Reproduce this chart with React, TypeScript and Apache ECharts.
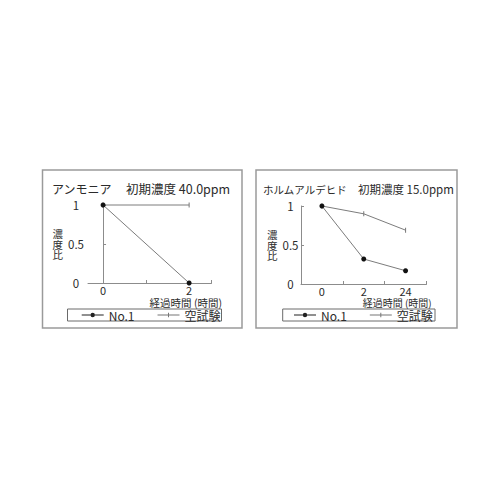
import React, { useEffect, useRef } from 'react';
import * as echarts from 'echarts';

const leftTimes = [0, 2];
const leftNo1 = [1, 0];
const leftBlank = [1, 1];
const rightTimes = ['0', '2', '24'];
const rightNo1 = [1, 0.32, 0.17];
const rightBlank = [1, 0.9, 0.69];
const seriesNames = ['No.1', '空試験'];
const leftTitle = ['アンモニア', '初期濃度 40.0ppm'];
const rightTitle = ['ホルムアルデヒド', '初期濃度 15.0ppm'];
const xAxisName = '経過時間 (時間)';
const yAxisName = '濃\n度\n比';

const FONT = '"Noto Sans CJK JP", "Noto Sans", sans-serif';
const LINE = '#7c7c7c';
const AXIS = '#8c8c8c';
const TEXT = '#2b2b2b';

const dotIcon = 'path://M0,1.7h22v1h-22z M13.2,2.2a2.2,2.2 0 1,1 -4.4,0a2.2,2.2 0 1,1 4.4,0z';
const tickIcon = 'path://M0,1.7h22v1h-22z M10.5,0h1v4.4h-1z';

function yAxisOf(grid: number, labelMargin: number, nameGap: number) {
  return {
    type: 'value',
    gridIndex: grid,
    min: 0,
    max: 1,
    interval: 0.5,
    axisLine: { show: true, lineStyle: { color: AXIS, width: 1 } },
    axisTick: { show: true, inside: true, length: 3, lineStyle: { color: AXIS } },
    axisLabel: { align: 'center', margin: labelMargin, fontSize: 11.5, color: TEXT, fontFamily: FONT },
    splitLine: { show: false },
    name: yAxisName,
    nameLocation: 'middle',
    nameGap: nameGap,
    nameRotate: 0,
    nameTextStyle: {
      align: 'center',
      verticalAlign: 'middle',
      fontSize: 10.5,
      lineHeight: 10.5,
      color: '#2b2b2b',
      fontFamily: FONT,
      padding: [7, 0, 0, 0],
    },
  };
}

function legendOf(left: number) {
  return {
    left,
    top: 309,
    padding: 0,
    itemWidth: 22,
    itemHeight: 4.4,
    itemGap: 23,
    selectedMode: false,
    itemStyle: { borderWidth: 0 },
    textStyle: { fontSize: 12, color: TEXT, fontFamily: FONT, padding: [0, 0, 0, 0] },
    data: [
      { name: seriesNames[0], icon: dotIcon, itemStyle: { color: '#222' } },
      { name: seriesNames[1], icon: tickIcon, itemStyle: { color: '#777' } },
    ],
  };
}

function no1Series(x: number, data: any[]) {
  return {
    name: seriesNames[0],
    type: 'line',
    xAxisIndex: x,
    yAxisIndex: x,
    data,
    clip: false,
    z: 3,
    symbol: 'circle',
    symbolSize: 5,
    itemStyle: { color: '#111', borderWidth: 0 },
    lineStyle: { color: LINE, width: 1 },
  };
}

function blankSeries(x: number, data: any[]) {
  return {
    name: seriesNames[1],
    type: 'line',
    xAxisIndex: x,
    yAxisIndex: x,
    data,
    clip: false,
    z: 2,
    symbol: 'rect',
    symbolSize: [1, 5],
    itemStyle: { color: '#777', borderWidth: 0 },
    lineStyle: { color: LINE, width: 1 },
  };
}

export default function App() {
  const ref = useRef<HTMLDivElement>(null);
  useEffect(() => {
    if (!ref.current) return;
    const chart = echarts.init(ref.current, undefined, { renderer: 'svg' });
    const txt = (x: number, y: number, text: string, fontSize: number, align = 'left') => ({
      type: 'text',
      x,
      y,
      style: { text, fontSize, fill: TEXT, fontFamily: FONT, align, verticalAlign: 'middle' },
    });
    const box = (x: number, y: number, w: number, h: number, stroke: string, lw: number) => ({
      type: 'rect',
      shape: { x, y, width: w, height: h },
      style: { fill: 'none', stroke, lineWidth: lw },
      silent: true,
    });
    chart.setOption({
      animation: false,
      backgroundColor: '#ffffff',
      grid: [
        { left: 88, top: 205, width: 123.5, height: 78 },
        { left: 301, top: 206, width: 125.5, height: 78 },
      ],
      xAxis: [
        {
          type: 'value',
          gridIndex: 0,
          min: -0.35,
          max: 2.52,
          axisLine: { show: true, lineStyle: { color: AXIS, width: 1 } },
          axisTick: { show: true, inside: true, length: 3, lineStyle: { color: AXIS }, customValues: [1, 2.52] },
          axisLabel: { customValues: leftTimes, margin: 1.5, fontSize: 11, color: TEXT, fontFamily: FONT },
          splitLine: { show: false },
        },
        {
          type: 'category',
          gridIndex: 1,
          data: rightTimes,
          boundaryGap: true,
          axisLine: { show: true, lineStyle: { color: AXIS, width: 1 } },
          axisTick: { show: true, inside: true, length: 3, lineStyle: { color: AXIS } },
          axisLabel: { margin: 1.5, fontSize: 11, color: TEXT, fontFamily: FONT },
          splitLine: { show: false },
        },
      ],
      yAxis: [yAxisOf(0, 12, 28), yAxisOf(1, 10.5, 25)],
      legend: [legendOf(81.7), legendOf(294)],
      series: [
        blankSeries(0, leftTimes.map((t, i) => [t, leftBlank[i]])),
        no1Series(0, leftTimes.map((t, i) => [t, leftNo1[i]])),
        blankSeries(1, rightBlank),
        no1Series(1, rightNo1),
      ],
      graphic: [
        box(42.5, 170, 199.5, 158, '#9a9a9a', 1.5),
        box(256, 170, 201, 158, '#9a9a9a', 1.5),
        box(67.5, 309, 154, 12, '#6a6a6a', 1),
        box(282.7, 309, 152.3, 12, '#6a6a6a', 1),
        txt(52, 188, leftTitle[0], 12),
        txt(126, 188, leftTitle[1], 12.5),
        txt(263, 189, rightTitle[0], 10.5),
        txt(358, 189, rightTitle[1], 11.5),
        txt(222, 302, xAxisName, 10.5, 'right'),
        txt(431.7, 302.5, xAxisName, 10, 'right'),
      ],
    });
    return () => chart.dispose();
  }, []);
  return <div ref={ref} style={{ position: 'fixed', left: 0, top: 0, width: 500, height: 500 }} />;
}
